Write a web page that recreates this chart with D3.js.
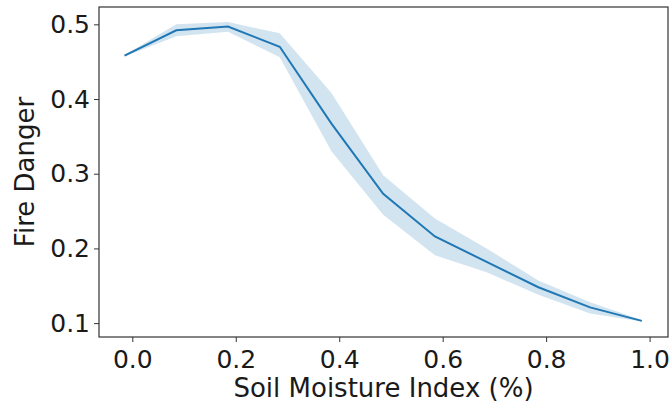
<!DOCTYPE html>
<html>
<head>
<meta charset="utf-8">
<script src="https://d3js.org/d3.v7.min.js"></script>
<style>
  body { margin: 0; background: #fff; }
  text { font-family: "DejaVu Sans", sans-serif; fill: #1a1a1a; }
</style>
</head>
<body>
<svg width="672" height="403"></svg>
<script>
// soil moisture bins (x), mean fire danger and the confidence band
var moisture = [-0.015, 0.085, 0.185, 0.285, 0.385, 0.485, 0.585, 0.685, 0.785, 0.885, 0.985];
var danger   = [0.458, 0.492, 0.497, 0.470, 0.367, 0.273, 0.216, 0.182, 0.148, 0.121, 0.103];
var bandHigh = [0.459, 0.500, 0.503, 0.488, 0.408, 0.298, 0.240, 0.200, 0.157, 0.128, 0.104];
var bandLow  = [0.457, 0.484, 0.490, 0.456, 0.330, 0.245, 0.191, 0.168, 0.138, 0.113, 0.102];
var xTicks = [0.0, 0.2, 0.4, 0.6, 0.8, 1.0];
var yTicks = [0.1, 0.2, 0.3, 0.4, 0.5];

var svg = d3.select("svg");
var mLeft = 99, mRight = 668, mTop = 7, mBottom = 337;

var x = d3.scaleLinear().domain([-0.0644, 1.0356]).range([mLeft, mRight]);
var y = d3.scaleLinear().domain([0.0814, 0.5232]).range([mBottom, mTop]);

var rows = moisture.map(function(m, i) {
    return { x: m, y: danger[i], lo: bandLow[i], hi: bandHigh[i] };
});

svg.append("path")
    .datum(rows)
    .attr("fill", "#1f77b4")
    .attr("fill-opacity", 0.2)
    .attr("d", d3.area()
        .x(function(d) { return x(d.x); })
        .y0(function(d) { return y(d.lo); })
        .y1(function(d) { return y(d.hi); }));

svg.append("path")
    .datum(rows)
    .attr("fill", "none")
    .attr("stroke", "#1f77b4")
    .attr("stroke-width", 2)
    .attr("d", d3.line()
        .x(function(d) { return x(d.x); })
        .y(function(d) { return y(d.y); }));

var xAxis = svg.append("g")
    .attr("transform", "translate(0," + mBottom + ")")
    .call(d3.axisBottom(x).tickValues(xTicks).tickFormat(d3.format(".1f")).tickSize(5).tickPadding(8));
var yAxis = svg.append("g")
    .attr("transform", "translate(" + mLeft + ",0)")
    .call(d3.axisLeft(y).tickValues(yTicks).tickFormat(d3.format(".1f")).tickSize(5).tickPadding(4));

[xAxis, yAxis].forEach(function(g) {
    g.select(".domain").remove();
    g.selectAll("line").attr("stroke", "#333");
    g.selectAll("text").attr("font-size", 25).attr("font-family", "DejaVu Sans").attr("fill", "#1a1a1a");
});

svg.append("rect")
    .attr("x", mLeft).attr("y", mTop)
    .attr("width", mRight - mLeft).attr("height", mBottom - mTop)
    .attr("fill", "none").attr("stroke", "#333").attr("stroke-width", 1.2);

svg.append("text")
    .attr("x", (mLeft + mRight) / 2).attr("y", 397)
    .attr("text-anchor", "middle").attr("font-size", 26)
    .text("Soil Moisture Index (%)");

svg.append("text")
    .attr("transform", "translate(34," + ((mTop + mBottom) / 2) + ") rotate(-90)")
    .attr("text-anchor", "middle").attr("font-size", 26)
    .text("Fire Danger");
</script>
</body>
</html>
